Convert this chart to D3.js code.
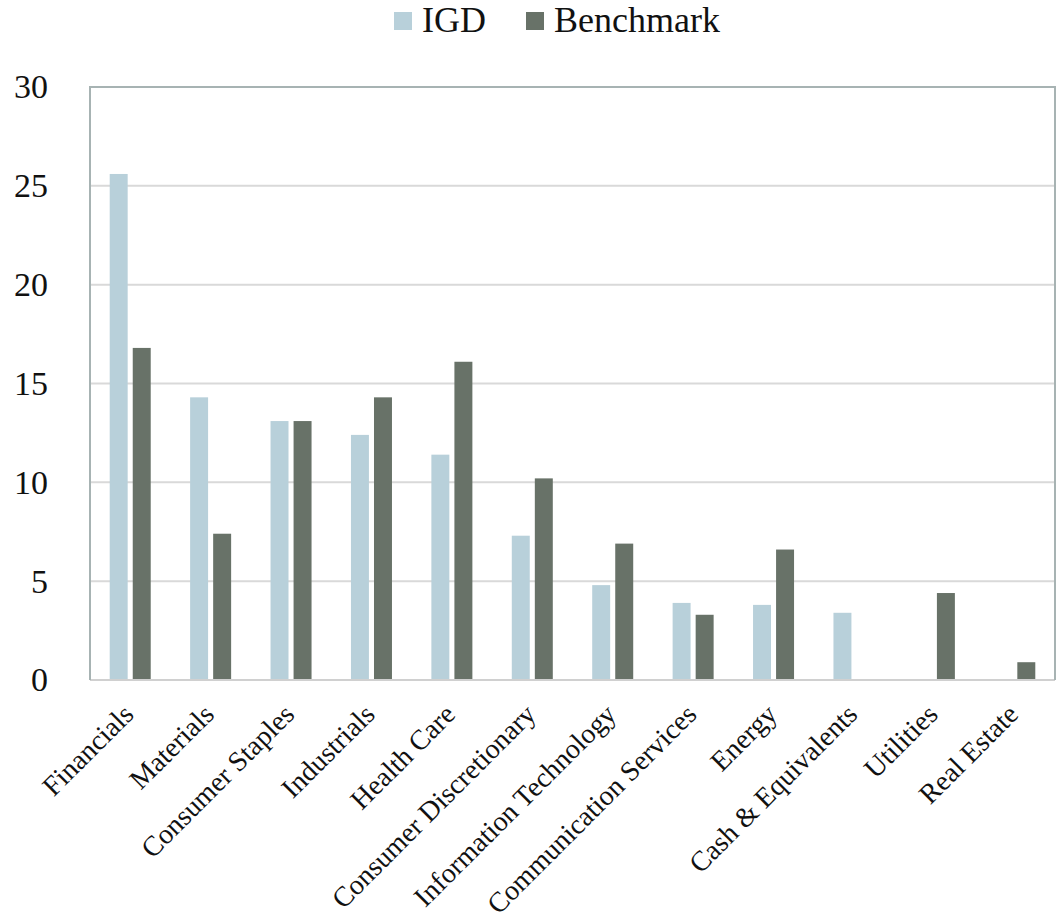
<!DOCTYPE html>
<html>
<head>
<meta charset="utf-8">
<script src="https://cdn.jsdelivr.net/npm/d3@7"></script>
<style>
  body { margin: 0; background: #fff; }
  text { font-family: "Liberation Serif", "DejaVu Serif", serif; fill: #111; }
</style>
</head>
<body>
<svg id="chart"></svg>
<script>
// 차트 크기
var width = 1063;
var height = 913;
var margin = { top: 87, right: 8, bottom: 233, left: 90 };

// 데이터
var sectors = ["Financials", "Materials", "Consumer Staples", "Industrials", "Health Care",
  "Consumer Discretionary", "Information Technology", "Communication Services", "Energy",
  "Cash & Equivalents", "Utilities", "Real Estate"];
var seriesNames = ["IGD", "Benchmark"];
var igdValues = [25.6, 14.3, 13.1, 12.4, 11.4, 7.3, 4.8, 3.9, 3.8, 3.4, 0, 0];
var benchValues = [16.8, 7.4, 13.1, 14.3, 16.1, 10.2, 6.9, 3.3, 6.6, 0, 4.4, 0.9];
var yTicks = [0, 5, 10, 15, 20, 25, 30];
var colors = ["#b8d0da", "#687268"];

var rows = sectors.map((s, i) => ({ sector: s, values: [igdValues[i], benchValues[i]] }));

var svg = d3.select("#chart")
  .attr("width", width)
  .attr("height", height);

// 그룹이 카테고리 가운데 오도록 outer = inner / 2
var x0 = d3.scaleBand()
  .domain(sectors)
  .range([margin.left, width - margin.right])
  .paddingInner(0.49)
  .paddingOuter(0.245);
var x1 = d3.scaleBand()
  .domain(seriesNames)
  .range([0, x0.bandwidth()])
  .paddingInner(0.22);
var yScale = d3.scaleLinear()
  .domain([0, 30])
  .range([height - margin.bottom, margin.top]);

// 눈금선
svg.append("g")
  .selectAll("line")
  .data(yTicks.filter(d => d > 0 && d < 30))
  .enter()
  .append("line")
    .attr("x1", margin.left)
    .attr("x2", width - margin.right)
    .attr("y1", d => yScale(d))
    .attr("y2", d => yScale(d))
    .attr("stroke", "#d9d9d9")
    .attr("stroke-width", 2);

// y축 라벨
var yAxis = d3.axisLeft(yScale).tickValues(yTicks).tickSize(0).tickPadding(42);
svg.append("g")
    .attr("transform", "translate(" + margin.left + ",0)")
    .call(yAxis)
    .call(g => g.select(".domain").remove())
    .selectAll("text")
      .style("font-family", "'Liberation Serif', serif")
      .style("font-size", "34px")
      .attr("fill", "#111");

// 막대
svg.append("g")
  .selectAll("g")
  .data(rows)
  .enter()
  .append("g")
    .attr("transform", d => "translate(" + x0(d.sector) + ",0)")
  .selectAll("rect")
  .data(d => d.values.map((v, i) => ({ key: seriesNames[i], value: v, i: i })).filter(d => d.value > 0))
  .enter()
  .append("rect")
    .attr("x", d => x1(d.key))
    .attr("width", x1.bandwidth())
    .attr("y", d => yScale(d.value))
    .attr("height", d => yScale(0) - yScale(d.value))
    .attr("fill", d => colors[d.i]);

// 테두리
var frame = svg.append("g").attr("fill", "none");
frame.append("line")
  .attr("x1", margin.left).attr("x2", width - margin.right)
  .attr("y1", yScale(0)).attr("y2", yScale(0))
  .attr("stroke", "#d0d0d0").attr("stroke-width", 2);
frame.append("path")
  .attr("d", "M" + margin.left + "," + yScale(0) + "V" + yScale(30) + "H" + (width - margin.right) + "V" + yScale(0))
  .attr("stroke", "#a7b3b3").attr("stroke-width", 2);

// x축 라벨 (45도 회전)
svg.append("g")
  .selectAll("text")
  .data(sectors)
  .enter()
  .append("text")
    .attr("transform", d => "translate(" + (x0(d) + x0.bandwidth() / 2 + 5) + "," + (yScale(0) + 36) + ") rotate(-45)")
    .style("text-anchor", "end")
    .style("font-size", "28px")
    .text(d => d);

// 범례
var legendItems = [{ name: "IGD", x: 394 }, { name: "Benchmark", x: 526 }];
var legend = svg.append("g")
  .selectAll("g")
  .data(legendItems)
  .enter()
  .append("g")
    .attr("transform", d => "translate(" + d.x + ",12)");
legend.append("rect")
  .attr("width", 18)
  .attr("height", 18)
  .attr("fill", (d, i) => colors[i]);
legend.append("text")
  .attr("x", 28)
  .attr("y", 20)
  .style("font-size", "36px")
  .text(d => d.name);
</script>
</body>
</html>
